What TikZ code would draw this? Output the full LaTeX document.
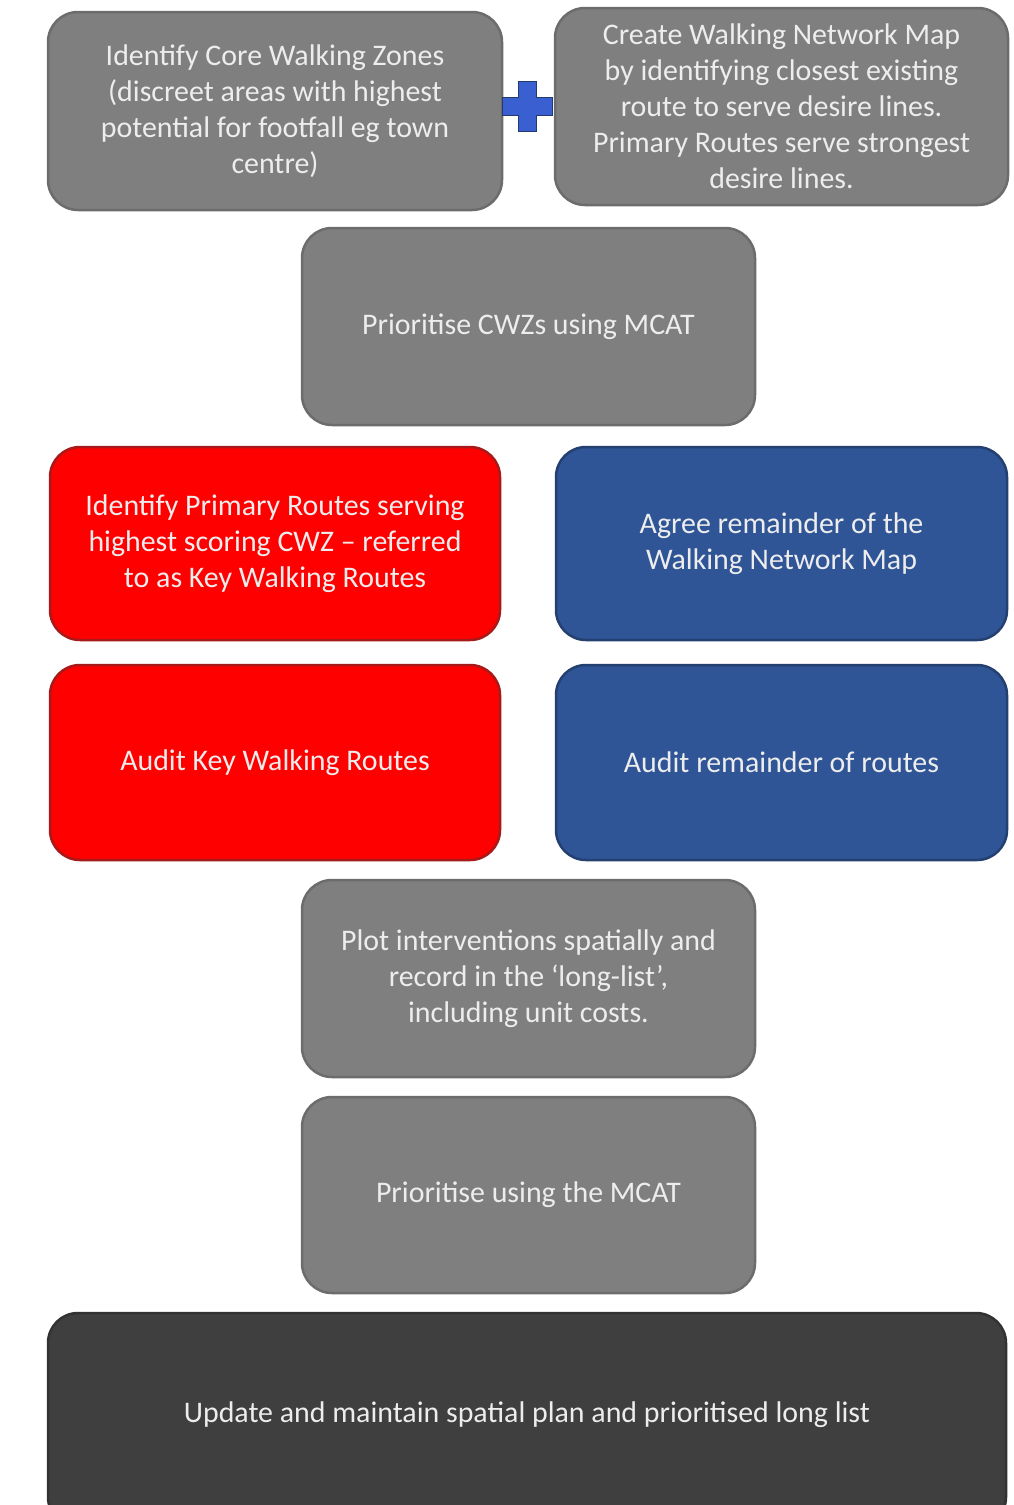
\documentclass[tikz,border=0pt]{standalone}
\usepackage{fontspec}
\setmainfont{Carlito}
\definecolor{boxgray}{HTML}{7F7F7F}
\definecolor{boxred}{HTML}{FF0000}
\definecolor{boxblue}{HTML}{2F5597}
\definecolor{boxdark}{HTML}{3F3F3F}
\definecolor{txtlight}{HTML}{EDEDED}
\definecolor{plusblue}{HTML}{3A5FD0}
\begin{document}
\begin{tikzpicture}[x=1pt,y=-1pt,
  stepbox/.style={rounded corners=30pt, line width=2.5pt, align=center,
    font=\fontsize{29.9}{36}\selectfont, text=txtlight, inner sep=0pt},
  graybox/.style={stepbox, fill=boxgray, draw=boxgray!85!black},
  redbox/.style={stepbox, fill=boxred, draw=boxred!70!black!80!gray},
  bluebox/.style={stepbox, fill=boxblue, draw=boxblue!75!black},
  darkbox/.style={stepbox, fill=boxdark, draw=boxdark!80!black},
  lbl/.style={align=center, font=\fontsize{29.9}{36}\selectfont, text=txtlight, inner sep=0pt}]
\useasboundingbox (0,0) rectangle (1014,1505);
\fill[white] (0,0) rectangle (1014,1505);

\node[graybox, minimum width=454pt, minimum height=198pt] (b1) at (275,111)
  {Identify Core Walking Zones\\(discreet areas with highest\\potential for footfall eg town\\centre)};
\node[graybox, minimum width=453pt, minimum height=197pt] (b2) at (781.5,106.5)
  {Create Walking Network Map\\by identifying closest existing\\route to serve desire lines.\\Primary Routes serve strongest\\desire lines.};
\node[graybox, minimum width=453pt, minimum height=197pt] (b3) at (528.5,326.5)
  {Prioritise CWZs using MCAT};
\node[redbox, minimum width=450pt, minimum height=193pt] (b4) at (275,543.5)
  {Identify Primary Routes serving\\highest scoring CWZ -- referred\\to as Key Walking Routes};
\node[bluebox, minimum width=451pt, minimum height=193pt] (b5) at (781.5,543.5)
  {Agree remainder of the\\Walking Network Map};
\node[redbox, minimum width=450pt, minimum height=195pt] (b6) at (275,762.5)
  {Audit Key Walking Routes};
\node[bluebox, minimum width=451pt, minimum height=195pt] (b7) at (781.5,762.5)
  {Audit remainder of routes};
\node[graybox, minimum width=453pt, minimum height=197pt] (b8) at (528.5,978.5)
  {Plot interventions spatially and\\record in the ‘long-list’,\\including unit costs.};
\node[graybox, minimum width=453pt, minimum height=196pt] (b9) at (528.5,1195)
  {Prioritise using the MCAT};
\node[darkbox, minimum width=958pt, minimum height=214pt] (b10) at (527,1420) {};
\node[lbl] (t10) at (527,1415) {Update and maintain spatial plan and prioritised long list};

% plus sign
\coordinate (pc) at (527,106);
\fill[plusblue, draw=boxblue!70!black, line width=1pt]
  ([shift={(-9,-25)}]pc) -- ([shift={(9,-25)}]pc) -- ([shift={(9,-9)}]pc) --
  ([shift={(25,-9)}]pc) -- ([shift={(25,9)}]pc) -- ([shift={(9,9)}]pc) --
  ([shift={(9,25)}]pc) -- ([shift={(-9,25)}]pc) -- ([shift={(-9,9)}]pc) --
  ([shift={(-25,9)}]pc) -- ([shift={(-25,-9)}]pc) -- ([shift={(-9,-9)}]pc) -- cycle;
\end{tikzpicture}
\end{document}
